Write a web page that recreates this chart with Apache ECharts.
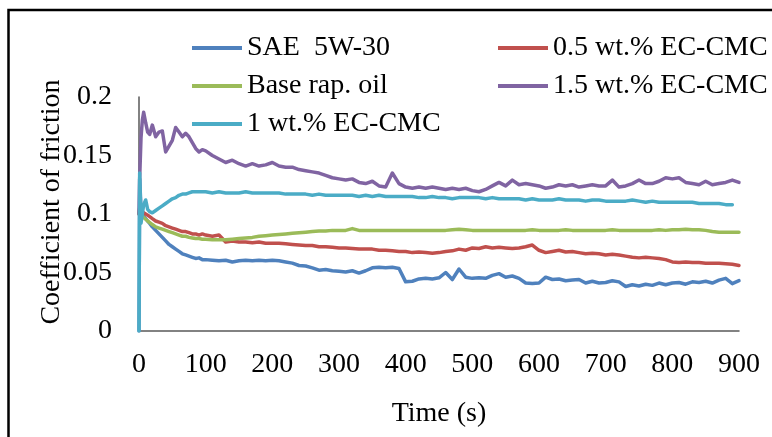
<!DOCTYPE html>
<html>
<head>
<meta charset="utf-8">
<script src="https://cdn.jsdelivr.net/npm/echarts@6/dist/echarts.min.js"></script>
<style>
html,body{margin:0;padding:0;background:#fff;}
#chart{width:772px;height:437px;}
</style>
</head>
<body>
<div id="chart"></div>
<script>
// Time grid (s)
var times = [0,1,3,5,7,10,13,16,20,25,30,35,40,45,50,55,60,65,70,75,80,85,90,95,100,
110,120,130,140,150,160,170,180,190,200,
210,220,230,240,250,260,270,280,290,300,
310,320,330,340,350,360,370,380,390,400,
410,420,430,440,450,460,470,480,490,500,
510,520,530,540,550,560,570,580,590,600,
610,620,630,640,650,660,670,680,690,700,
710,720,730,740,750,760,770,780,790,800,
810,820,830,840,850,860,870,880,890,900];

var seriesNames = ["SAE  5W-30","0.5 wt.% EC-CMC","Base rap. oil","1.5 wt.% EC-CMC","1 wt.% EC-CMC"];

var sae = [0,0.13,0.105,0.100,0.098,0.096,0.094,0.092,0.089,0.086,0.083,0.080,0.077,0.074,0.072,0.070,0.068,0.066,0.065,0.064,0.063,0.062,0.0625,0.061,0.061,
0.0605,0.060,0.0605,0.059,0.060,0.0605,0.060,0.0605,0.060,0.0605,
0.060,0.059,0.058,0.056,0.0555,0.054,0.052,0.0525,0.0515,0.051,
0.0505,0.0515,0.0495,0.0515,0.054,0.0545,0.054,0.0545,0.0535,0.042,
0.0425,0.0445,0.045,0.0445,0.0455,0.050,0.044,0.053,0.046,0.045,
0.0455,0.045,0.0475,0.049,0.046,0.047,0.045,0.041,0.0405,0.041,
0.046,0.044,0.0445,0.043,0.0435,0.044,0.041,0.0425,0.041,0.0415,
0.043,0.042,0.038,0.0395,0.0385,0.040,0.039,0.041,0.0395,0.041,
0.0415,0.040,0.042,0.0415,0.0425,0.041,0.0435,0.045,0.0405,0.043];

var ec05 = [0.1,0.105,0.103,0.102,0.101,0.100,0.099,0.098,0.096,0.094,0.093,0.092,0.090,0.089,0.088,0.087,0.086,0.085,0.085,0.084,0.083,0.083,0.082,0.083,0.082,
0.081,0.082,0.076,0.077,0.076,0.076,0.0755,0.076,0.075,0.075,
0.075,0.0745,0.074,0.0735,0.073,0.073,0.072,0.072,0.0715,0.071,
0.071,0.0705,0.070,0.070,0.070,0.069,0.069,0.0685,0.068,0.068,
0.067,0.0675,0.067,0.0665,0.067,0.068,0.0685,0.070,0.069,0.071,
0.0705,0.072,0.071,0.0715,0.071,0.0705,0.071,0.072,0.0735,0.069,
0.067,0.068,0.069,0.0675,0.068,0.067,0.066,0.0665,0.066,0.065,
0.0655,0.065,0.064,0.063,0.0625,0.063,0.0625,0.062,0.061,0.059,
0.0585,0.059,0.0585,0.0585,0.058,0.058,0.058,0.0575,0.057,0.056];

var baseOil = [0.1,0.104,0.1,0.099,0.097,0.096,0.094,0.093,0.091,0.089,0.088,0.087,0.086,0.085,0.084,0.083,0.082,0.081,0.081,0.080,0.0795,0.079,0.079,0.0785,0.0785,
0.078,0.078,0.078,0.0785,0.079,0.0795,0.080,0.081,0.0815,0.082,
0.0825,0.083,0.0835,0.084,0.0845,0.085,0.0855,0.0855,0.086,0.086,
0.086,0.0875,0.086,0.086,0.086,0.086,0.086,0.086,0.086,0.086,
0.086,0.086,0.086,0.086,0.086,0.086,0.0865,0.087,0.0865,0.086,
0.086,0.086,0.086,0.086,0.086,0.086,0.086,0.086,0.0865,0.086,
0.086,0.086,0.086,0.0865,0.086,0.086,0.086,0.086,0.086,0.086,
0.0865,0.086,0.086,0.086,0.086,0.086,0.086,0.0865,0.086,0.0865,
0.0865,0.087,0.0865,0.0865,0.086,0.085,0.0845,0.0845,0.0845,0.0845];

var ec15 = [0.10,0.13,0.165,0.18,0.187,0.178,0.170,0.168,0.176,0.166,0.170,0.171,0.153,0.158,0.163,0.174,0.170,0.166,0.169,0.166,0.161,0.156,0.153,0.155,0.154,
0.150,0.147,0.144,0.146,0.143,0.141,0.143,0.141,0.142,0.144,
0.141,0.140,0.140,0.138,0.137,0.136,0.135,0.133,0.131,0.130,
0.129,0.130,0.127,0.126,0.128,0.124,0.123,0.135,0.126,0.123,
0.122,0.123,0.122,0.123,0.122,0.121,0.122,0.121,0.122,0.120,
0.119,0.121,0.124,0.127,0.124,0.129,0.125,0.126,0.125,0.124,
0.122,0.123,0.125,0.124,0.125,0.123,0.124,0.125,0.124,0.124,
0.129,0.123,0.124,0.126,0.129,0.126,0.126,0.128,0.131,0.130,
0.131,0.127,0.126,0.125,0.128,0.125,0.126,0.127,0.129,0.127];

var ec10 = [0,0.135,0.092,0.1,0.108,0.112,0.104,0.102,0.101,0.103,0.105,0.107,0.109,0.111,0.113,0.114,0.116,0.117,0.117,0.118,0.119,0.119,0.119,0.119,0.119,
0.118,0.119,0.118,0.118,0.118,0.119,0.118,0.118,0.118,0.118,
0.118,0.117,0.117,0.117,0.117,0.116,0.117,0.116,0.116,0.116,
0.116,0.116,0.115,0.116,0.115,0.116,0.115,0.115,0.115,0.115,
0.115,0.114,0.114,0.115,0.114,0.114,0.113,0.114,0.114,0.114,
0.114,0.113,0.114,0.113,0.113,0.113,0.113,0.112,0.113,0.112,
0.112,0.112,0.113,0.112,0.112,0.112,0.111,0.112,0.112,0.111,
0.111,0.111,0.111,0.112,0.111,0.110,0.111,0.110,0.110,0.110,
0.110,0.110,0.110,0.109,0.109,0.109,0.109,0.108,0.108,null];

var yTicks = [0, 0.05, 0.1, 0.15, 0.2];
var xTicks = [0,100,200,300,400,500,600,700,800,900];
var xTitle = "Time (s)";
var yTitle = "Coefficient of friction";

var colors = ["#4F81BD","#C0504D","#9BBB59","#8064A2","#4BACC6"];
var allValues = [sae, ec05, baseOil, ec15, ec10];
var FONT = "Liberation Serif";
var FS = 28;

function pairs(vals){
  var out = [];
  for (var i=0;i<times.length;i++){
    if (vals[i] !== null && vals[i] !== undefined) out.push([times[i], vals[i]]);
  }
  return out;
}

var series = seriesNames.map(function(n, i){
  return {
    name: n, type: 'line', data: pairs(allValues[i]),
    showSymbol: false, symbol: 'none', smooth: false,
    lineStyle: {color: colors[i], width: 3.5, join: 'round', cap: 'round'},
    itemStyle: {color: colors[i]},
    animation: false
  };
});

var legendCommon = {
  orient: 'vertical', top: 34, padding: 0, itemGap: 10,
  itemWidth: 50, itemHeight: 4, icon: 'rect',
  textStyle: {fontFamily: FONT, fontSize: FS, color: '#000', lineHeight: 28}
};

var chart = echarts.init(document.getElementById('chart'), null, {renderer: 'canvas'});
chart.setOption({
  animation: false,
  backgroundColor: '#fff',
  color: colors,
  grid: {left: 139, right: 33, top: 97, bottom: 106, containLabel: false},
  legend: [
    Object.assign({}, legendCommon, {left: 192, data: [seriesNames[0], seriesNames[2], seriesNames[4]]}),
    Object.assign({}, legendCommon, {left: 498, data: [seriesNames[1], seriesNames[3]]})
  ],
  xAxis: {
    type: 'value', min: xTicks[0], max: xTicks[xTicks.length-1], interval: 100,
    name: xTitle, nameLocation: 'middle', nameGap: 69,
    nameTextStyle: {fontFamily: FONT, fontSize: FS, color: '#000'},
    axisLine: {show: true, lineStyle: {color: '#595959', width: 1.5}},
    axisTick: {show: false},
    splitLine: {show: false},
    axisLabel: {fontFamily: FONT, fontSize: FS, color: '#000', margin: 20}
  },
  yAxis: {
    type: 'value', min: yTicks[0], max: yTicks[yTicks.length-1], interval: 0.05,
    axisLine: {show: true, lineStyle: {color: '#595959', width: 1.5}},
    axisTick: {show: false},
    splitLine: {show: false},
    axisLabel: {fontFamily: FONT, fontSize: FS, color: '#000', margin: 27}
  },
  graphic: [{
    type: 'rect', silent: true, z: 100,
    shape: {x: 8.5, y: 10, width: 900, height: 600},
    style: {fill: null, stroke: '#000', lineWidth: 2.5}
  }, {
    type: 'text', silent: true, z: 100,
    x: 52, y: 202, rotation: Math.PI / 2,
    style: {text: yTitle, fontFamily: FONT, fontSize: FS, fill: '#000', align: 'center', verticalAlign: 'middle'}
  }],
  series: series
});
</script>
</body>
</html>
